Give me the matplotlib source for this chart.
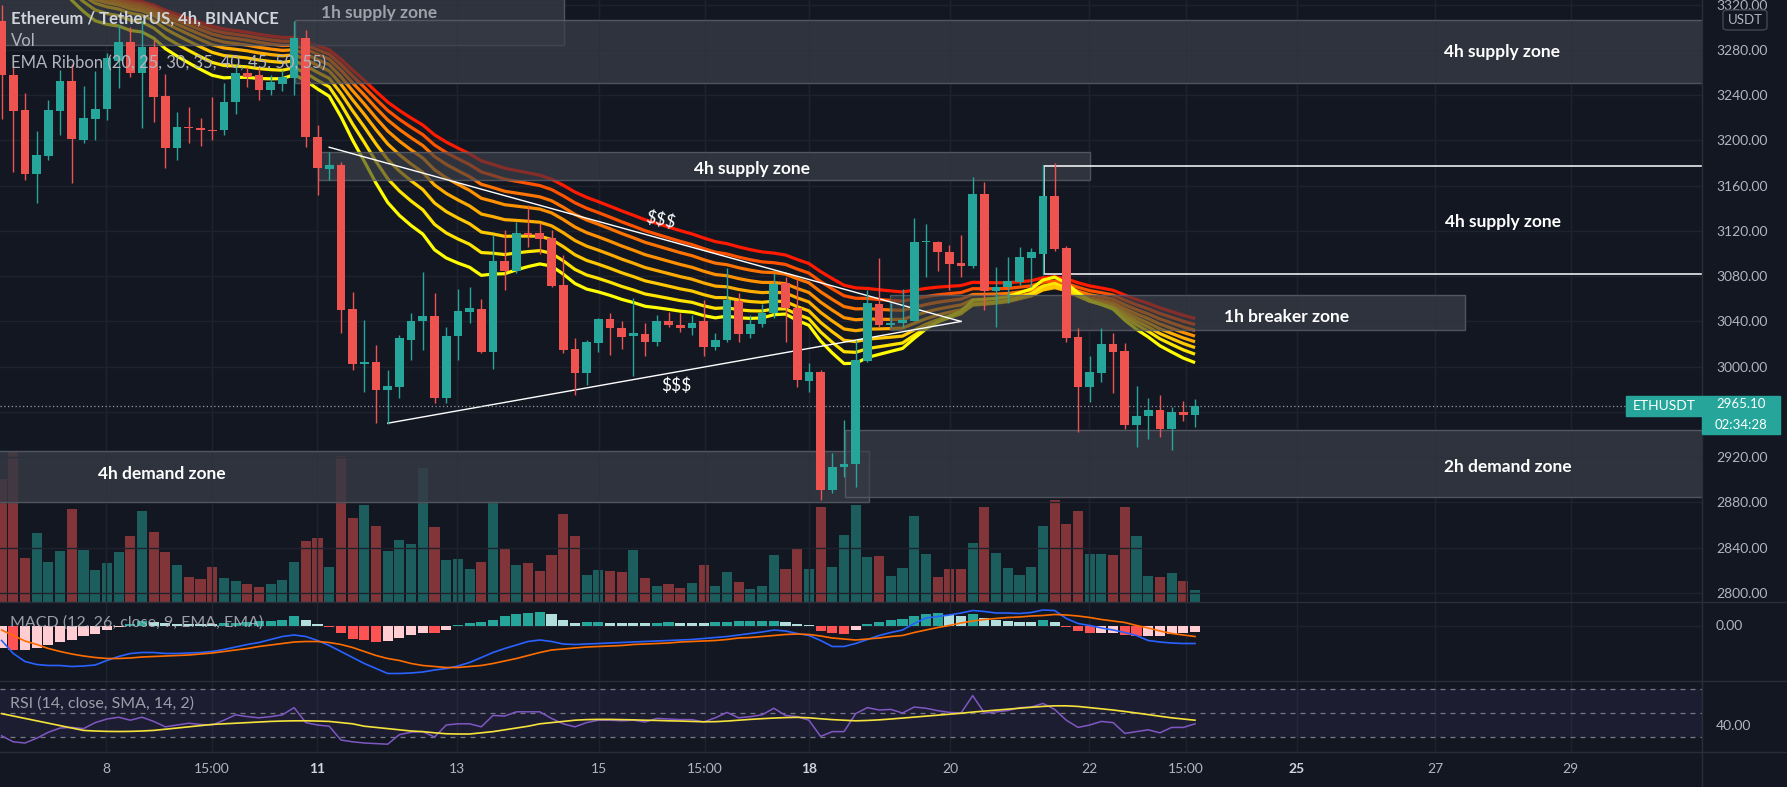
import numpy as np
import matplotlib.pyplot as plt
from matplotlib.patches import Rectangle, FancyBboxPatch
from matplotlib.lines import Line2D
from matplotlib.colors import to_rgba

plt.rcParams['font.family'] = ['Lato', 'DejaVu Sans']

# ── ETHUSDT 4h candles ────────────────────────────────────────────────
opens = [3306, 3258, 3227, 3170, 3186, 3226, 3253, 3200, 3219, 3228,
         3270, 3287, 3260, 3283, 3239, 3193, 3212, 3211, 3209, 3209,
         3234, 3260, 3258, 3245, 3250, 3255, 3291, 3203, 3175, 3178,
         3051, 3002, 3004, 2979, 2982, 3024, 3040, 3045, 2972, 3027,
         3048, 3051, 3013, 3093, 3085, 3118, 3118, 3114, 3072, 3016,
         2994, 3021, 3042, 3034, 3027, 3029, 3022, 3040, 3037, 3034,
         3040, 3017, 3024, 3058, 3029, 3038, 3047, 3074, 3052, 2987,
         2995, 2891, 2911, 2914, 3005, 3055, 3037, 3039, 3040, 3110,
         3110, 3101, 3092, 3089, 3153, 3067, 3070, 3075, 3096, 3100,
         3151, 3105, 3026, 2982, 2994, 3020, 3014, 2948, 2956, 2962,
         2945, 2960, 2957]
highs = [3320, 3265, 3242, 3208, 3236, 3262, 3268, 3248, 3261, 3277,
         3302, 3300, 3306, 3289, 3259, 3225, 3230, 3220, 3238, 3251,
         3267, 3265, 3264, 3258, 3262, 3306, 3298, 3214, 3190, 3181,
         3066, 3041, 3019, 2997, 3028, 3047, 3084, 3065, 3035, 3069,
         3070, 3060, 3116, 3121, 3128, 3143, 3127, 3121, 3099, 3025,
         3024, 3043, 3047, 3040, 3061, 3039, 3046, 3048, 3047, 3046,
         3059, 3030, 3087, 3065, 3046, 3055, 3083, 3079, 3077, 3003,
         2997, 2924, 2953, 3024, 3068, 3096, 3056, 3069, 3131, 3126,
         3111, 3108, 3116, 3168, 3163, 3088, 3097, 3106, 3105, 3178,
         3180, 3107, 3034, 3009, 3034, 3030, 3021, 2983, 2972, 2975,
         2964, 2970, 2971]
lows = [3219, 3172, 3165, 3145, 3183, 3205, 3162, 3198, 3200, 3218,
        3246, 3256, 3211, 3216, 3176, 3183, 3198, 3195, 3200, 3205,
        3223, 3247, 3236, 3240, 3244, 3240, 3194, 3152, 3165, 3030,
        2997, 2978, 2950, 2949, 2972, 3006, 3015, 2968, 2968, 3006,
        3039, 3012, 2998, 3068, 3083, 3106, 3100, 3070, 3012, 2975,
        2984, 3013, 3010, 3016, 2992, 3009, 3018, 3035, 3031, 3028,
        3009, 3015, 3022, 3022, 3025, 3035, 3043, 3022, 2982, 2978,
        2882, 2888, 2902, 2894, 3004, 3035, 3035, 3035, 3040, 3079,
        3085, 3068, 3079, 3087, 3050, 3035, 3056, 3072, 3070, 3081,
        3102, 3022, 2942, 2969, 2986, 2977, 2945, 2929, 2936, 2938,
        2926, 2952, 2947]
closes = [3258, 3226, 3170, 3187, 3227, 3253, 3201, 3220, 3228, 3273,
          3287, 3260, 3283, 3238, 3193, 3212, 3211, 3209, 3208, 3234,
          3260, 3256, 3245, 3252, 3256, 3291, 3203, 3176, 3178, 3050,
          3002, 3004, 2979, 2983, 3025, 3040, 3045, 2972, 3027, 3049,
          3052, 3013, 3093, 3085, 3118, 3116, 3113, 3071, 3015, 2994,
          3022, 3042, 3034, 3026, 3030, 3022, 3040, 3037, 3034, 3039,
          3017, 3024, 3059, 3029, 3038, 3047, 3073, 3052, 2988, 2995,
          2891, 2911, 2914, 3006, 3056, 3037, 3039, 3041, 3110, 3111,
          3101, 3091, 3089, 3153, 3067, 3070, 3076, 3097, 3101, 3151,
          3104, 3025, 2982, 2995, 3020, 3013, 2948, 2956, 2962, 2945,
          2960, 2957, 2965.1]
volume = [123, 150, 44, 69, 40, 51, 93, 52, 32, 39,
          50, 66, 91, 70, 50, 37, 25, 23, 35, 24,
          21, 18, 15, 18, 22, 40, 61, 64, 35, 146,
          84, 97, 76, 51, 62, 58, 134, 75, 42, 43,
          33, 40, 101, 54, 37, 39, 31, 47, 88, 66,
          27, 32, 31, 30, 52, 24, 16, 18, 14, 19,
          37, 16, 30, 20, 13, 16, 47, 33, 53, 33,
          95, 35, 67, 97, 45, 46, 26, 34, 86, 48,
          25, 33, 33, 59, 95, 49, 34, 27, 35, 76,
          102, 78, 91, 48, 48, 47, 95, 66, 26, 25,
          29, 21, 12]

# MACD (12, 26, 9) and RSI (14) panes
macd_line = [-15, -28, -36, -39, -40, -40, -41, -40.5, -39.5, -35,
             -31, -28, -27, -27, -28, -28, -27.5, -27, -26, -24,
             -21.5, -19, -17, -14, -11, -9.5, -11, -15, -20, -26,
             -32, -38, -43, -48, -48, -47.5, -46.5, -44.5, -43, -40.5,
             -37, -32, -27, -23, -19.5, -16, -14.5, -16, -18.5, -19,
             -18.5, -18, -17.5, -17, -16.5, -16, -15.5, -15, -14.5, -14,
             -13, -12, -11, -9.5, -8, -6.5, -4.5, -5.5, -8, -10,
             -15, -21, -21, -18, -14, -10, -7, -4.5, 2, 7.5,
             9, 10.5, 12.5, 15, 14, 12.5, 12.5, 12, 13, 15.5,
             15, 7, 2, 0, -2.5, -4.5, -7, -10, -15, -16.5,
             -17.5, -18, -18]
signal_line = [-4.5, -10, -15.5, -19, -23, -26, -28.5, -30.5, -32, -33,
               -33, -32.5, -31.5, -31, -30.5, -30, -29.5, -28.5, -27.5, -26,
               -24.5, -23, -21, -19.5, -18, -16.5, -16, -16, -17, -19,
               -22, -26, -30, -33, -35, -38, -40, -41, -42, -42,
               -41, -40, -38, -35.5, -33, -30, -27, -24.5, -23.5, -22.5,
               -21.5, -21, -20.5, -20, -19, -18.5, -18, -17.5, -16.5, -16,
               -15.5, -15, -14, -12.5, -12, -11, -10, -9, -8.5, -9,
               -10.5, -12.5, -13.5, -14.5, -13.5, -12.5, -11, -10, -7, -4.5,
               -2, 0, 2.5, 4.5, 6, 7, 8, 8.5, 9.5, 10,
               11, 10.5, 9.5, 8, 6, 4.5, 3, 0, -2.5, -5.5,
               -8, -9.5, -11]
macd_hist = [-22.5, -24, -24, -22.5, -19, -16, -14.5, -10.5, -8, -4.5,
             -1, 2, 4.5, 4, 3, 2, 2, 2, 2, 2.5,
             3, 4, 4.5, 5, 6, 9.5, 5.5, 2, -1, -7,
             -13, -14.5, -16, -15, -12, -9.5, -7, -7.5, -4, 1,
             2.5, 3.5, 6, 9.5, 11.5, 13, 14, 11.5, 6, 3,
             3.2, 3.3, 2.8, 2.6, 2.5, 2.4, 3, 3.1, 2.9, 2.8,
             2.7, 3.5, 4, 4.1, 4.2, 4.5, 4.6, 3.5, 2, 0.5,
             -5.5, -7, -8, -4.5, 1.5, 3.5, 6, 6.5, 10, 12,
             12.5, 10.5, 10, 12, 7.5, 6, 4.5, 3.5, 3.5, 6,
             3.5, -1, -5, -7.5, -7, -7, -9.5, -10, -10, -10,
             -8.5, -7.5, -6.5]
rsi = [31, 26, 25, 29, 34, 37.5, 38, 37, 42, 45,
       46.5, 44, 46.5, 43, 38.5, 40, 41.5, 40.5, 40, 44,
       48.5, 47, 46, 47, 48.5, 54.5, 42, 40, 39, 27.5,
       26, 25, 24.5, 24, 32, 34, 34.5, 30, 40, 41,
       41, 38.5, 48, 47.5, 51, 51, 51, 45.5, 41, 38.5,
       42, 44, 44, 43.5, 44, 42.5, 45.5, 45, 44.5, 44.5,
       42.5, 46, 50.5, 46, 47, 48.5, 54, 48, 47, 44,
       30.5, 34.5, 34.5, 49.5, 54.5, 52.5, 53, 50, 55, 54,
       52, 50.5, 50, 64.5, 50, 51, 52, 54.5, 55, 58,
       53, 44, 38, 40, 43, 42, 33, 34.5, 36, 33.5,
       38, 38, 41]
rsi_ma = [49.5, 47.5, 45.5, 43.5, 41.5, 39.5, 37.5, 35.5, 35, 34.7,
          34.6, 34.7, 35, 35.5, 36.5, 37.5, 38.5, 39.5, 40.5, 41,
          41.5, 42, 42.5, 43, 43.3, 43.5, 43.5, 43.3, 43, 42,
          41, 39, 38, 37, 36, 35, 34.5, 33.5, 32.7, 32.5,
          32.5, 33.5, 34.5, 36, 37.5, 39, 41, 42, 43, 44,
          44.5, 44.7, 44.7, 44.5, 44.3, 44, 43.8, 43.5, 43.3, 43,
          42.7, 42.8, 43.3, 44, 44.7, 45.3, 45.8, 46.2, 46.4, 46,
          45.2, 44.5, 44, 43.5, 43.8, 44.3, 45, 45.8, 46.6, 47.4,
          48.2, 49, 49.8, 50.8, 51.6, 52.4, 53.2, 54, 54.8, 55.5,
          56, 56, 55.5, 54.5, 53.5, 52.5, 51.3, 50, 48.7, 47.3,
          46, 45, 44]

# EMA ribbon lengths and their values at the first visible bar
ribbon_lengths = [20, 25, 30, 35, 40, 45, 50, 55]
ribbon_start = [3416, 3405, 3396, 3388, 3381, 3376, 3372, 3369]
ribbon_colors = ['#ffff00', '#ffe400', '#ffc800', '#ffac00',
                 '#ff9000', '#ff7400', '#ff5200', '#ff1a00']

# price scale; the 2960 label sits under the last-price tag
price_ticks = [2800, 2840, 2880, 2920, 2960, 3000, 3040, 3080, 3120,
               3160, 3200, 3240, 3280, 3320]
hidden_price_ticks = [2960]

# x axis (bar index) tick labels
tick_pos = [8.92, 17.98, 26.96, 38.92, 51.06, 60.12, 69.0, 81.06,
            92.94, 101.23, 110.7, 122.5, 134.1]
tick_labels = ['8', '15:00', '11', '13', '15', '15:00', '18', '20',
               '22', '15:00', '25', '27', '29']
bold_ticks = ['11', '18', '25']

# drawn zones: bar index span and price span
zone_left = [-2, 25.1, 27.0, 75.9, -2, 72.1]
zone_right = [48.1, 150, 93.0, 125.1, 74.1, 150]
zone_low = [3284, 3251, 3165, 3032, 2880, 2885]
zone_high = [3340, 3306.5, 3190, 3063, 2925, 2944]

# ── layout helpers ───────────────────────────────────────────────────
W, H = 1787, 787
BG = '#131722'
GRID = '#1e222d'
SEP = '#2a2e39'
TXT = '#b2b5be'
GREEN, RED = '#26a69a', '#ef5350'
ZONE = to_rgba('#363a45', 0.6)
AXIS_X = 1702
P_LO, P_HI = 2791.9, 3324.2


def fx(px):
    return px / W


def fy(py):
    return 1 - py / H


def pane(top, bottom):
    return [0, fy(bottom), fx(AXIS_X), (bottom - top) / H]


fig = plt.figure(figsize=(W / 100, H / 100), dpi=100, facecolor=BG)
ax_vol = fig.add_axes(pane(0, 602))
ax = fig.add_axes(pane(0, 602), sharex=ax_vol)
ax_macd = fig.add_axes(pane(602, 681), sharex=ax_vol)
ax_rsi = fig.add_axes(pane(681, 752), sharex=ax_vol)
ax_vol.set_zorder(0)
ax.set_zorder(1)

idx = np.arange(len(closes))
o, hi, lo, c = (np.array(a, dtype=float) for a in (opens, highs, lows, closes))
col = np.where(c >= o, GREEN, RED)

for a in (ax_vol, ax, ax_macd, ax_rsi):
    a.set_facecolor(BG)
    for s in a.spines.values():
        s.set_visible(False)
    a.set_xlim(-0.137, 145.33)
    a.set_xticks(tick_pos)
    a.grid(axis='x', color=GRID, lw=1)
    a.tick_params(axis='x', length=0, labelbottom=False)
    a.set_axisbelow(True)
ax.patch.set_visible(False)

# ── volume (overlay at bottom of price pane) ─────────────────────────
ax_vol.bar(idx, volume, width=0.86, color=col, alpha=0.5, linewidth=0)
ax_vol.set_ylim(0, 602)
ax_vol.set_yticks([])

# ── price pane ───────────────────────────────────────────────────────
ax.set_ylim(P_LO, P_HI)
ax.yaxis.tick_right()
ax.set_yticks(price_ticks)
ax.set_yticklabels(['' if v in hidden_price_ticks else f'{v:.2f}'
                    for v in price_ticks])
ax.tick_params(axis='y', length=0, pad=10, labelsize=10, labelcolor=TXT)
ax.grid(axis='y', color=GRID, lw=1)


def ema(series, length, start):
    k = 2 / (length + 1)
    out = [start]
    for v in series[1:]:
        out.append(out[-1] + k * (v - out[-1]))
    return np.array(out)


for n, s0, clr in zip(ribbon_lengths[::-1], ribbon_start[::-1], ribbon_colors[::-1]):
    ax.plot(idx, ema(c, n, s0), color=clr, lw=2.3, zorder=2,
            solid_capstyle='butt', solid_joinstyle='round')

# zones sit over the ribbon and the volume, under the candles
for x0, x1, p0, p1 in zip(zone_left, zone_right, zone_low, zone_high):
    ax.add_patch(Rectangle((x0, p0), x1 - x0, p1 - p0, facecolor=ZONE,
                           edgecolor=to_rgba('#5d606b', 0.8), lw=1, zorder=3))
    v0 = (p0 - P_LO) / (P_HI - P_LO) * 602
    v1 = (p1 - P_LO) / (P_HI - P_LO) * 602
    ax_vol.add_patch(Rectangle((x0, v0), x1 - x0, v1 - v0, facecolor=ZONE,
                               lw=0, zorder=3))

# white range box from the last swing high
ax.add_patch(Rectangle((89.1, 3082), 80, 95.5, fill=False,
                       edgecolor='white', lw=1.1, zorder=4))
# converging trendlines
ax.plot([28, 82], [3194, 3040], color='white', lw=1, zorder=4)
ax.plot([33, 82], [2950, 3040], color='white', lw=1, zorder=4)

# candles
ax.vlines(idx, lo, hi, colors=col, lw=1, zorder=5)
ax.bar(idx, np.maximum(np.abs(c - o), 0.9), bottom=np.minimum(o, c),
       width=0.74, color=col, linewidth=0, zorder=6)

ax.axhline(closes[-1], color='#9598a1', lw=0.9, ls=(0, (1, 2)), zorder=4)

zone_kw = dict(color='white', fontsize=12.5, fontweight='bold', zorder=7,
               ha='center', va='center')
ax.text(27.3, 3312.7, '1h supply zone', color='#9ea1aa', fontsize=12.5,
        fontweight='bold', ha='left', va='center', zorder=7)
ax.text(128.2, 3278, '4h supply zone', **zone_kw)
ax.text(64.1, 3175, '4h supply zone', **zone_kw)
ax.text(128.3, 3128, '4h supply zone', **zone_kw)
ax.text(109.8, 3044, '1h breaker zone', **zone_kw)
ax.text(13.7, 2905, '4h demand zone', **zone_kw)
ax.text(128.7, 2911, '2h demand zone', **zone_kw)
ax.text(56.3, 3130, '$$$', color='white', fontsize=12.5, ha='center',
        va='center', rotation=-12, zorder=7)
ax.text(57.7, 2983, '$$$', color='white', fontsize=12.5, ha='center',
        va='center', zorder=7)

# ── MACD pane ────────────────────────────────────────────────────────
hist = np.array(macd_hist)
prev = np.concatenate([[hist[0]], hist[:-1]])
hcol = np.where(hist >= 0,
                np.where(hist > prev, '#26a69a', '#b2dfdb'),
                np.where(hist < prev, '#ff5252', '#ffcdd2'))
ax_macd.bar(idx, hist, width=0.86, color=hcol, linewidth=0, zorder=2)
ax_macd.plot(idx, macd_line, color='#2962ff', lw=1.2, zorder=3)
ax_macd.plot(idx, signal_line, color='#ff6d00', lw=1.2, zorder=3)
ax_macd.set_ylim(-55.5, 23.5)
ax_macd.yaxis.tick_right()
ax_macd.set_yticks([0])
ax_macd.set_yticklabels(['0.00'])
ax_macd.tick_params(axis='y', length=0, pad=10, labelsize=10, labelcolor=TXT)
ax_macd.grid(axis='y', color=GRID, lw=1)

# ── RSI pane ─────────────────────────────────────────────────────────
ax_rsi.axhspan(30, 70, color='#7e57c2', alpha=0.1, lw=0)
for lvl in (30, 50, 70):
    ax_rsi.axhline(lvl, color='#787b86', lw=0.9, ls=(0, (4, 4)))
ax_rsi.plot(idx, rsi, color='#7e57c2', lw=1.1, zorder=3)
ax_rsi.plot(idx, rsi_ma, color='#f5e33b', lw=1.2, zorder=3)
ax_rsi.set_ylim(17.5, 76.7)
ax_rsi.yaxis.tick_right()
ax_rsi.set_yticks([40])
ax_rsi.set_yticklabels(['40.00'])
ax_rsi.tick_params(axis='y', length=0, pad=10, labelsize=10, labelcolor=TXT)
ax_rsi.tick_params(axis='x', labelbottom=True, pad=8, labelsize=10,
                   labelcolor=TXT)
ax_rsi.set_xticklabels(tick_labels)
for t in ax_rsi.get_xticklabels():
    if t.get_text() in bold_ticks:
        t.set_fontweight('bold')
        t.set_color('#d1d4dc')

# ── pane separators and legends ──────────────────────────────────────
for py in (602, 681, 752):
    fig.add_artist(Line2D([0, 1], [fy(py), fy(py)], color=SEP, lw=1))
fig.add_artist(Line2D([fx(AXIS_X)] * 2, [0, 1], color=SEP, lw=1))

fig.text(fx(11), fy(19), 'Ethereum / TetherUS, 4h, BINANCE', color='#d1d4dc',
         fontsize=12, fontweight='bold', va='center', zorder=5)
fig.text(fx(11), fy(41), 'Vol', color=TXT, fontsize=12, va='center', zorder=5)
fig.text(fx(11), fy(63), 'EMA Ribbon (20, 25, 30, 35, 40, 45, 50, 55)',
         color=TXT, fontsize=12, va='center', zorder=5)
fig.text(fx(10), fy(623), 'MACD (12, 26, close, 9, EMA, EMA)', color=TXT,
         fontsize=11.5, va='center', alpha=0.85, zorder=5)
fig.text(fx(10), fy(704), 'RSI (14, close, SMA, 14, 2)', color=TXT,
         fontsize=11.5, va='center', alpha=0.85, zorder=5)

# last price tags on the price scale
fig.add_artist(Rectangle((fx(1626), fy(416)), fx(76), 20 / H,
                         transform=fig.transFigure, color=GREEN, zorder=8))
fig.add_artist(Rectangle((fx(1702), fy(434)), fx(78), 38 / H,
                         transform=fig.transFigure, color=GREEN, zorder=8))
fig.text(fx(1664), fy(406), 'ETHUSDT', color='white', fontsize=10,
         ha='center', va='center', zorder=9)
fig.text(fx(1741), fy(404.5), f'{closes[-1]:.2f}', color='white',
         fontsize=9.5, ha='center', va='center', zorder=9)
fig.text(fx(1741), fy(425), '02:34:28', color='white', fontsize=9.5,
         ha='center', va='center', zorder=9)
fig.add_artist(FancyBboxPatch((fx(1723), fy(30)), fx(44), 20 / H,
                              boxstyle='round,pad=0,rounding_size=0.003',
                              transform=fig.transFigure, facecolor=BG,
                              edgecolor='#434651', lw=1, zorder=8))
fig.text(fx(1745), fy(20), 'USDT', color=TXT, fontsize=9.5, ha='center',
         va='center', zorder=9)

fig.savefig('out.png', dpi=100, facecolor=BG)
